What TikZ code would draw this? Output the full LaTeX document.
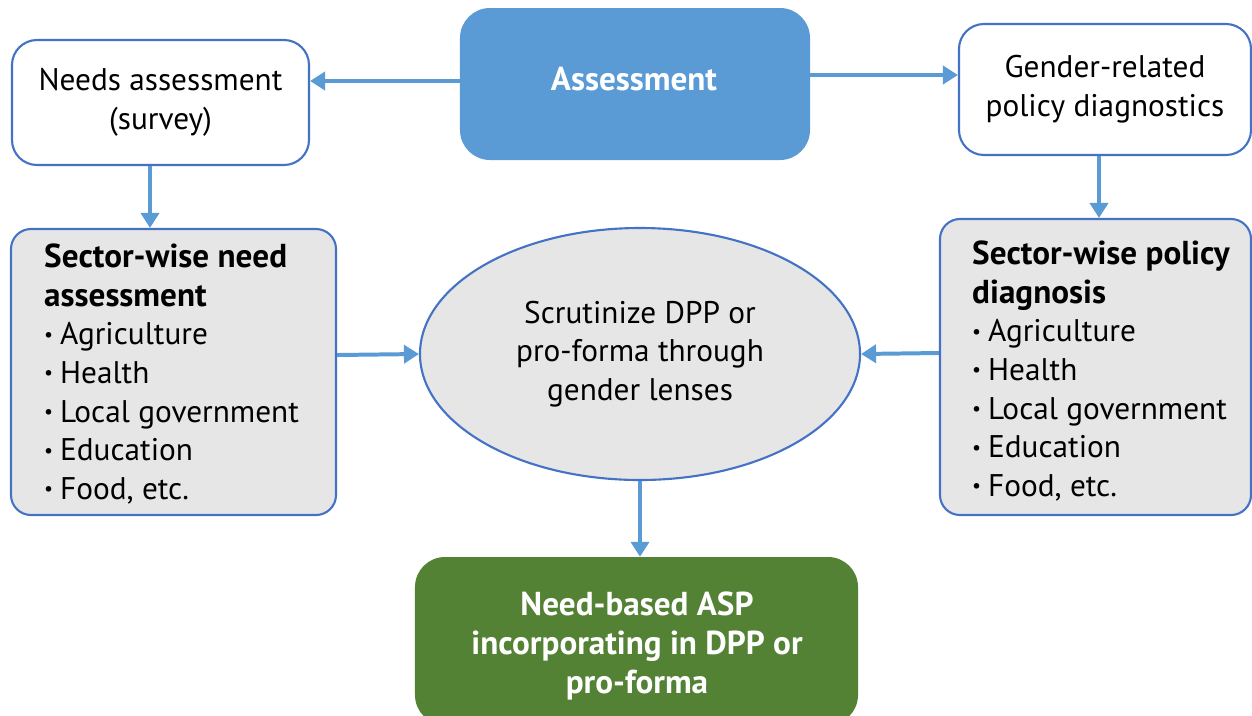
\documentclass[tikz,border=0pt]{standalone}
\usepackage{fontspec}
\setmainfont{PT Sans}
\usetikzlibrary{arrows.meta,calc,shapes.geometric}
\definecolor{edgeblue}{HTML}{4472C4}
\definecolor{arrowblue}{HTML}{5B9BD5}
\definecolor{boxgray}{HTML}{E7E6E6}
\definecolor{boxgreen}{HTML}{548235}
\newcommand{\regfont}{\fontsize{26.7}{33}\selectfont}
\newcommand{\hdfont}{\fontsize{28.3}{33}\selectfont\bfseries}
\newcommand{\itm}{\raisebox{0.12em}{\fontsize{17}{17}\selectfont\textbullet}\hspace{0.22em}}
\begin{document}
\begin{tikzpicture}[x=0.03cm,y=-0.03cm,
  every node/.style={font=\regfont},
  roundbox/.style={draw=edgeblue,line width=1.8pt,rounded corners=0.75cm,align=center,inner sep=0pt},
  listbox/.style={draw=edgeblue,line width=1.8pt,fill=boxgray,rounded corners=0.6cm,inner sep=0pt},
  listtext/.style={anchor=west,align=left,inner sep=0pt},
  solidbox/.style={rounded corners=0.9cm,inner sep=0pt},
  solidtext/.style={align=center,inner sep=0pt,text=white,font=\hdfont},
  flow/.style={draw=arrowblue,line width=3.4pt,-{Triangle[width=0.54cm,length=0.45cm]}}]
\useasboundingbox (0,0) rectangle (1252,715);
\fill[white] (0,0) rectangle (1252,715);

% top row
\node[solidbox,fill=arrowblue,minimum width=10.5cm,minimum height=4.56cm] (assess) at (635,84) {};
\node[solidtext] (assesstxt) at (634,79) {Assessment};
\node[roundbox,minimum width=8.91cm,minimum height=3.75cm] (needs) at (160.5,102.5) {Needs assessment\\(survey)};
\node[roundbox,minimum width=8.76cm,minimum height=3.93cm] (gender) at (1105,89.5) {Gender-related\\policy diagnostics};

% sector lists
\node[listbox,minimum width=9.75cm,minimum height=8.58cm] (lgray) at (173.5,372) {};
\node[listtext] (lgraytxt) at (44,374)
  {{\hdfont Sector-wise need}\\{\hdfont assessment}\\\itm Agriculture\\\itm Health\\\itm Local government\\\itm Education\\\itm Food, etc.};
\node[listbox,minimum width=9.33cm,minimum height=8.88cm] (rgray) at (1095.5,367) {};
\node[listtext] (rgraytxt) at (972,371)
  {{\hdfont Sector-wise policy}\\{\hdfont diagnosis}\\\itm Agriculture\\\itm Health\\\itm Local government\\\itm Education\\\itm Food, etc.};

% central ellipse
\node[ellipse,draw=edgeblue,line width=1.8pt,fill=boxgray,minimum width=13.2cm,minimum height=7.56cm,inner sep=0pt,align=center] (scrut) at (640,354)
  {Scrutinize DPP or\\pro-forma through\\gender lenses};

% outcome
\node[solidbox,fill=boxgreen,minimum width=13.29cm,minimum height=5.04cm] (asp) at (636.5,641) {};
\node[solidtext] (asptxt) at (637,646) {Need-based ASP\\incorporating in DPP or\\pro-forma};

% connectors
\draw[flow] ($(assess.west)+(0,-3)$) coordinate (a1) -- (a1 -| needs.east);
\draw[flow] ($(assess.east)+(0,-9)$) coordinate (a2) -- (a2 -| gender.west);
\draw[flow] ($(needs.south)+(-10.5,0)$) coordinate (a3) -- (a3 |- lgray.north);
\draw[flow] ($(gender.south)+(-6,0)$) coordinate (a4) -- (a4 |- rgray.north);
\draw[flow] ($(lgray.east)+(0,-17)$) -- (scrut.west);
\draw[flow] ($(rgray.west)+(0,-14)$) -- (scrut.east);
\draw[flow] (scrut.south) -- (scrut.south |- asp.north);
\end{tikzpicture}
\end{document}
